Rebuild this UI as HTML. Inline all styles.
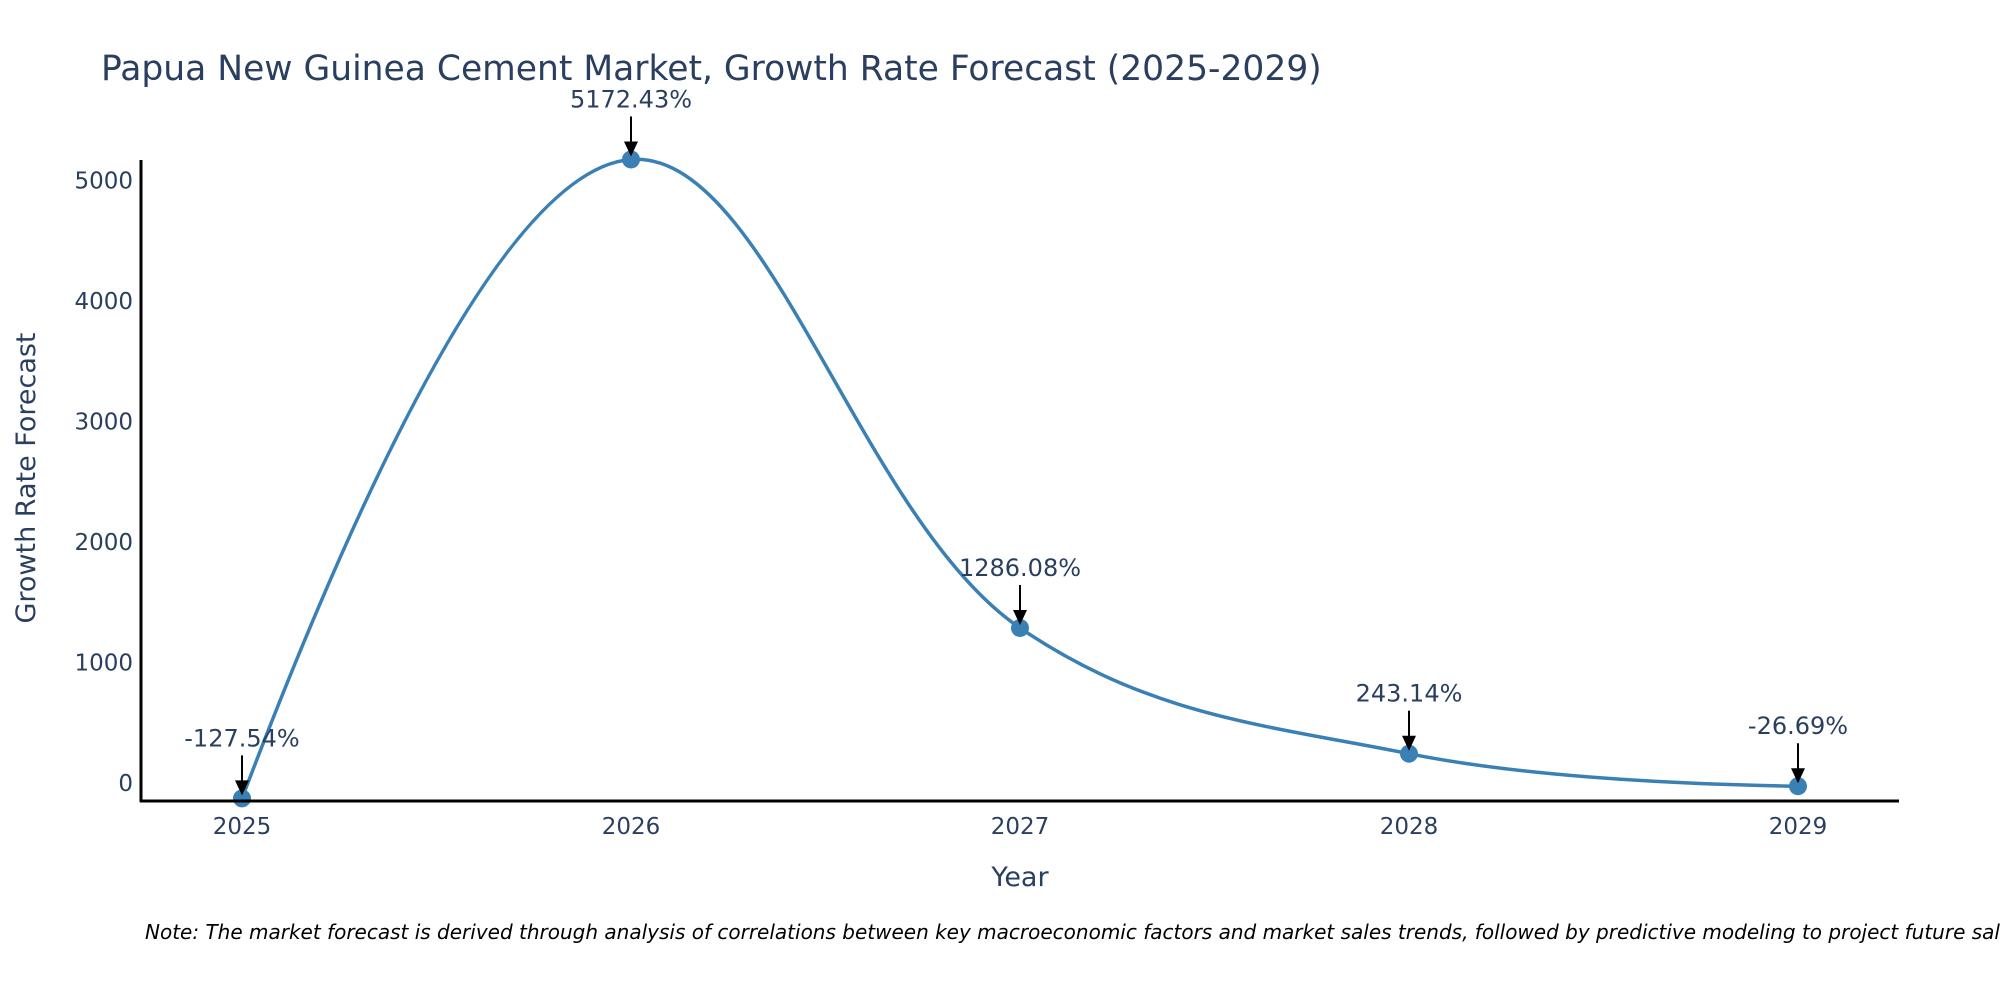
<!DOCTYPE html>
<html><head><meta charset="utf-8"><style>
html,body{margin:0;padding:0;background:#fff;overflow:hidden;}
svg{display:block;font-family:"DejaVu Sans","Liberation Sans",sans-serif;}
</style></head><body>
<svg id="chart" width="2000" height="1000" viewBox="0 0 2000 1000" xmlns="http://www.w3.org/2000/svg">
<text x="101" y="80" font-size="34.5" fill="#2a3f5f">Papua New Guinea Cement Market, Growth Rate Forecast (2025-2029)</text>
<g id="yticks"></g>
<g id="xticks"></g>
<path id="line" fill="none" stroke="#3a80b4" stroke-width="3.5"></path>
<g id="markers"></g>
<g id="annos"></g>
<line x1="141" y1="160" x2="141" y2="802" stroke="#000" stroke-width="3"/>
<line x1="140" y1="801" x2="1899" y2="801" stroke="#000" stroke-width="3"/>
<text transform="translate(35,478) rotate(-90)" text-anchor="middle" font-size="27" fill="#2a3f5f">Growth Rate Forecast</text>
<text x="1020" y="886" text-anchor="middle" font-size="27" fill="#2a3f5f">Year</text>
<text x="145" y="939" font-size="20" font-style="italic" fill="#000">Note: The market forecast is derived through analysis of correlations between key macroeconomic factors and market sales trends, followed by predictive modeling to project future sales.</text>
</svg>
<script>
const years = ["2025","2026","2027","2028","2029"];
const values = [-127.54, 5172.43, 1286.08, 243.14, -26.69];
const labels = ["-127.54%","5172.43%","1286.08%","243.14%","-26.69%"];
const yTicks = [0,1000,2000,3000,4000,5000];

const NS="http://www.w3.org/2000/svg";
function X(i){return 242 + i*389;}
function Y(v){return 783 - v*0.12055;}
function el(t,a,p){const e=document.createElementNS(NS,t);for(const k in a)e.setAttribute(k,a[k]);p.appendChild(e);return e;}

const yg=document.getElementById('yticks');
yTicks.forEach(v=>{
  const t=el('text',{x:133,y:Y(v)+8,'text-anchor':'end','font-size':23,fill:'#2a3f5f'},yg);
  
  
  t.textContent=v;
});
const xg=document.getElementById('xticks');
years.forEach((y,i)=>{
  const t=el('text',{x:X(i),y:834,'text-anchor':'middle','font-size':23,fill:'#2a3f5f'},xg);
  
  
  t.textContent=y;
});

const pts=values.map((v,i)=>[X(i),Y(v)]);
function tangent(p,c,n,s){
  const d1x=p[0]-c[0],d1y=p[1]-c[1],d2x=n[0]-c[0],d2y=n[1]-c[1];
  const d1a=Math.pow(d1x*d1x+d1y*d1y,0.25),d2a=Math.pow(d2x*d2x+d2y*d2y,0.25);
  const nx=(d2a*d2a*d1x-d1a*d1a*d2x)*s,ny=(d2a*d2a*d1y-d1a*d1a*d2y)*s;
  const de1=3*d2a*(d1a+d2a),de2=3*d1a*(d1a+d2a);
  return [[c[0]+nx/de1,c[1]+ny/de1],[c[0]-nx/de2,c[1]-ny/de2]];
}
const tg=[];
for(let i=1;i<pts.length-1;i++)tg.push(tangent(pts[i-1],pts[i],pts[i+1],1.1));
let d='M'+pts[0]+'Q'+tg[0][0]+' '+pts[1];
for(let i=2;i<pts.length-1;i++)d+='C'+tg[i-2][1]+' '+tg[i-1][0]+' '+pts[i];
d+='Q'+tg[pts.length-3][1]+' '+pts[pts.length-1];
document.getElementById('line').setAttribute('d',d);

const mg=document.getElementById('markers');
const ag=document.getElementById('annos');
pts.forEach((p,i)=>{
  const c=el('circle',{cx:p[0],cy:p[1],r:9,fill:'#3a80b4'},mg);
  
  
  const l=el('line',{x1:p[0],y1:p[1]-43,x2:p[0],y2:p[1]-16,stroke:'#000','stroke-width':2},ag);
  
  
  const h=el('polygon',{points:`${p[0]-7},${p[1]-18} ${p[0]+7},${p[1]-18} ${p[0]},${p[1]-3}`,fill:'#000'},ag);
  
  
  const t=el('text',{x:p[0],y:p[1]-52,'text-anchor':'middle','font-size':24,fill:'#2a3f5f'},ag);
  
  
  t.textContent=labels[i];
});
</script>
</body></html>
